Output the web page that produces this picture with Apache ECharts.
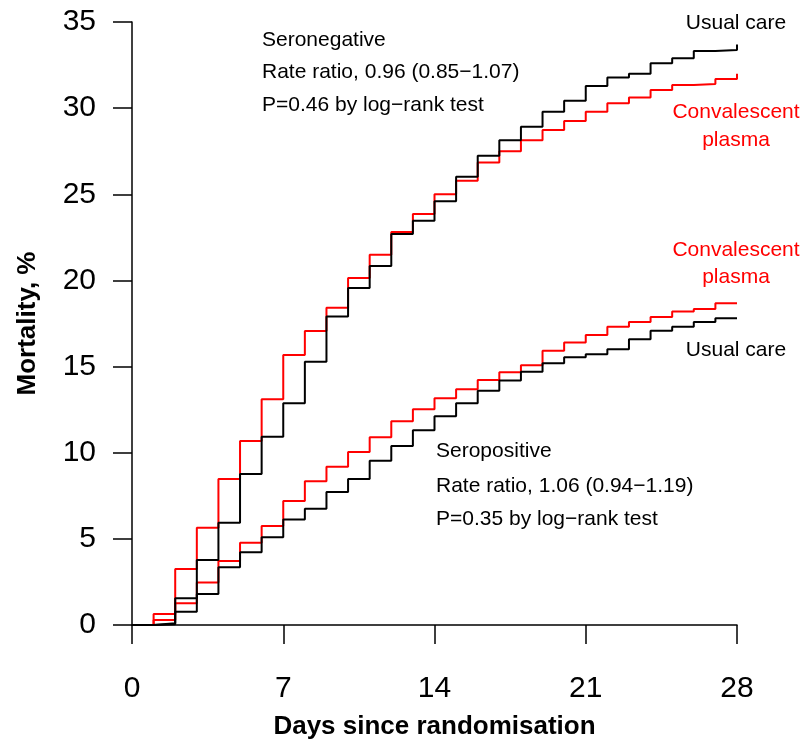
<!DOCTYPE html>
<html>
<head>
<meta charset="utf-8">
<script src="https://cdn.jsdelivr.net/npm/echarts@6/dist/echarts.min.js"></script>
<style>
html,body{margin:0;padding:0;background:#fff;}
#chart{width:804px;height:745px;}
</style>
</head>
<body>
<div id="chart"></div>
<script>
const days = [0,1,2,3,4,5,6,7,8,9,10,11,12,13,14,15,16,17,18,19,20,21,22,23,24,25,26,27,28];
const seronegUsual = [0,0.1,1.55,3.77,5.94,8.76,10.93,12.87,15.28,17.9,19.56,20.84,22.69,23.47,24.59,26.02,27.24,28.13,28.92,29.79,30.43,31.28,31.78,32.0,32.6,32.89,33.32,33.37,33.7];
const seronegPlasma = [0,0.64,3.25,5.65,8.47,10.68,13.1,15.67,17.06,18.42,20.14,21.49,22.81,23.85,25.0,25.79,26.85,27.5,28.13,28.73,29.25,29.79,30.28,30.62,31.05,31.34,31.4,31.69,32.0];
const seroposUsual = [0,0.05,0.77,1.8,3.35,4.22,5.09,6.13,6.75,7.72,8.48,9.54,10.39,11.3,12.12,12.87,13.6,14.19,14.7,15.19,15.54,15.71,16.0,16.58,17.08,17.31,17.59,17.8,17.8];
const seroposPlasma = [0,0.29,1.26,2.46,3.71,4.78,5.75,7.2,8.34,9.19,10.04,10.9,11.83,12.52,13.16,13.68,14.22,14.67,15.08,15.92,16.39,16.83,17.31,17.59,17.88,18.19,18.34,18.67,18.7];
const xTicks = [0,7,14,21,28];
const yTicks = [0,5,10,15,20,25,30,35];

const FONT = '"Liberation Sans", Arial, Helvetica, sans-serif';
const RED = '#ff0000', BLACK = '#000000';

function pairs(vals){ return days.map((d,i)=>[d, vals[i]]); }
function stepSeries(name, vals, color){
  return {name, type:'line', step:'end', data:pairs(vals), symbol:'none',
    lineStyle:{color, width:2}, itemStyle:{color}, animation:false, silent:true};
}

const chart = echarts.init(document.getElementById('chart'));
function txt(left, top, text, color, align){
  return {type:'text', x:left, y:top,
    style:{text, fill:color||BLACK, font:'21px ' + FONT, textAlign:align||'left', textVerticalAlign:'middle'}};
}
chart.setOption({
  animation:false,
  grid:{left:132, right:67, top:22, bottom:120, containLabel:false},
  xAxis:{type:'value', min:0, max:28, interval:7,
    axisLine:{show:true, lineStyle:{color:BLACK, width:1.5}},
    axisTick:{show:true, length:19, lineStyle:{color:BLACK, width:1.5}},
    axisLabel:{fontSize:30, color:BLACK, fontFamily:FONT, margin:49,
      formatter:v=> xTicks.includes(v) ? String(v) : ''},
    splitLine:{show:false},
    name:'Days since randomisation', nameLocation:'middle', nameGap:89,
    nameTextStyle:{fontSize:26, fontWeight:'bold', color:BLACK, fontFamily:FONT}},
  yAxis:{type:'value', min:0, max:35, interval:5,
    axisLine:{show:true, lineStyle:{color:BLACK, width:1.5}},
    axisTick:{show:true, length:19, lineStyle:{color:BLACK, width:1.5}},
    axisLabel:{fontSize:30, color:BLACK, fontFamily:FONT, margin:36,
      formatter:v=> yTicks.includes(v) ? String(v) : ''},
    splitLine:{show:false},
    name:'Mortality, %', nameLocation:'middle', nameGap:91, nameRotate:90,
    nameTextStyle:{fontSize:26, fontWeight:'bold', color:BLACK, fontFamily:FONT}},
  series:[
    stepSeries('Seronegative – Convalescent plasma', seronegPlasma, RED),
    stepSeries('Seropositive – Convalescent plasma', seroposPlasma, RED),
    stepSeries('Seronegative – Usual care', seronegUsual, BLACK),
    stepSeries('Seropositive – Usual care', seroposUsual, BLACK)
  ],
  graphic:[
    txt(262, 40, 'Seronegative'),
    txt(262, 72, 'Rate ratio, 0.96 (0.85\u22121.07)'),
    txt(262, 105, 'P=0.46 by log\u2212rank test'),
    txt(436, 451, 'Seropositive'),
    txt(436, 486, 'Rate ratio, 1.06 (0.94\u22121.19)'),
    txt(436, 519, 'P=0.35 by log\u2212rank test'),
    txt(736, 23, 'Usual care', BLACK, 'center'),
    txt(736, 112, 'Convalescent', RED, 'center'),
    txt(736, 140, 'plasma', RED, 'center'),
    txt(736, 250, 'Convalescent', RED, 'center'),
    txt(736, 277, 'plasma', RED, 'center'),
    txt(736, 350, 'Usual care', BLACK, 'center')
  ]
});
</script>
</body>
</html>
